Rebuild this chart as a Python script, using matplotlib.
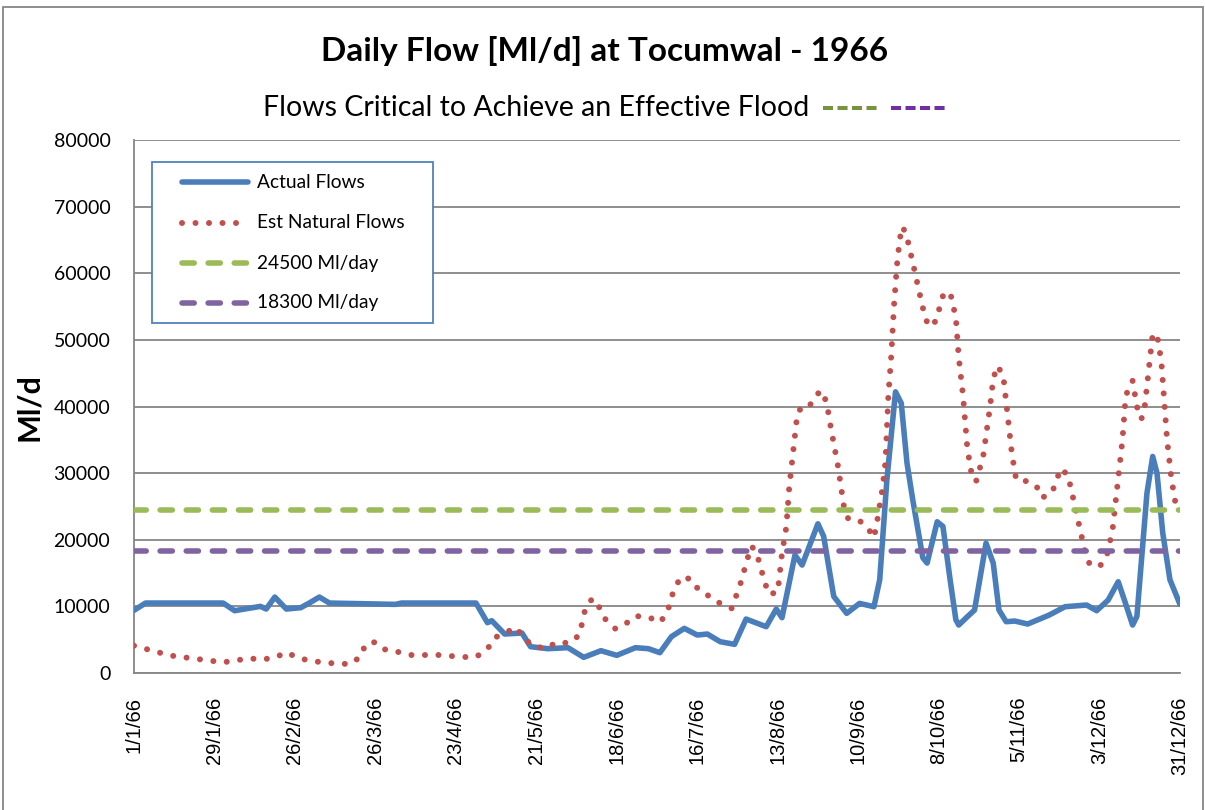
import datetime
import matplotlib
matplotlib.use("Agg")
import matplotlib.pyplot as plt
import matplotlib.patches as patches
from matplotlib.lines import Line2D

# day of year (0 = 1 Jan 1966) and flow in Ml/d
actual_day = [0, 4, 31, 35, 44, 46, 49, 53, 58, 61, 64.5, 68, 91, 93, 119, 123, 124.5,
              129, 135, 138, 144, 151, 156.5, 162.5, 168, 174.5, 179, 183, 187, 191.5,
              196, 199.5, 204, 209, 213, 220, 223.5, 225.5, 230, 232.5, 238, 240, 243.5,
              248, 252.5, 257.5, 259.5, 262, 265, 267, 269, 271, 274.5, 276, 279.5, 281.5,
              284, 286, 287, 290, 292.5, 296.5, 299, 301, 303.5, 306.5, 311, 318.5, 324,
              331.5, 335, 339, 342.5, 345, 347.5, 349, 352.5, 354.5, 356, 358, 360.5, 364]
actual_flow = [9400, 10500, 10500, 9350, 10000, 9600, 11400, 9600, 9800, 10500, 11400,
               10500, 10300, 10500, 10500, 7550, 7850, 5850, 6000, 3950, 3650, 3800, 2350,
               3350, 2650, 3800, 3650, 3050, 5450, 6700, 5700, 5850, 4700, 4300, 8100, 6950,
               9600, 8300, 17700, 16200, 22400, 20500, 11500, 8950, 10450, 9950, 14000,
               29000, 42200, 40500, 31500, 26000, 17300, 16500, 22700, 22000, 14000, 8000,
               7200, 8450, 9450, 19500, 16500, 9450, 7700, 7800, 7350, 8700, 9950, 10200,
               9350, 10950, 13700, 10500, 7200, 8500, 27000, 32500, 30000, 21000, 14000,
               10300]

natural_day = [0, 8.5, 13, 22, 31, 35.5, 40.5, 44, 49, 53, 57, 61.5, 70.5, 75.5, 79, 80.5,
               84, 87.5, 92, 96.5, 106, 114.5, 119, 123, 125.5, 129.5, 133, 135.5, 139,
               143.5, 147, 151.5, 155, 157, 159.5, 162, 164, 167.5, 171, 174.5, 179, 183,
               185.5, 188, 190.5, 194, 196.5, 200.5, 204.5, 208, 211, 213.5, 215, 217,
               219.5, 221, 224, 225.5, 227, 228, 229.5, 230.5, 231.5, 234.5, 236.5, 239,
               241, 242.5, 245, 247, 248.5, 252, 255, 257.5, 258.5, 260.5, 261.5, 262.5,
               263.5, 264.5, 265.5, 266.5, 267.5, 269, 271, 273, 275, 276.5, 279, 281.5,
               284, 286, 287, 288.5, 290, 291.5, 293, 295.5, 298, 299, 300.5, 302.5, 304,
               305.5, 307, 310.5, 314, 316, 319.5, 322.5, 325, 327, 329, 331, 332.5, 336,
               338.5, 340.5, 342.5, 344, 345, 346, 347.5, 349, 350.5, 351.5, 352.5, 353.5,
               354.5, 356, 357.5, 358.5, 359.5, 361, 362.5]
natural_flow = [4100, 3100, 2600, 2100, 1600, 1900, 2200, 2000, 2300, 3100, 2300, 1800,
                1400, 1350, 2550, 4300, 4650, 3500, 3150, 2700, 2700, 2400, 2400, 3600,
                5300, 6100, 6850, 5300, 4000, 3700, 4600, 4500, 5700, 9550, 11200, 9800,
                8100, 6650, 7350, 8550, 8400, 7600, 9000, 12700, 14450, 14050, 12450,
                11450, 10300, 9700, 13350, 17200, 19050, 17500, 13600, 11800, 12150, 17950,
                21900, 27800, 33600, 37600, 39500, 39600, 41200, 42400, 40700, 36800,
                31000, 25100, 23200, 23000, 22000, 20300, 22500, 27800, 31700, 41600,
                47500, 55300, 61200, 65200, 67000, 65400, 61600, 57700, 53900, 52000,
                52800, 56600, 57200, 53300, 47400, 41600, 33700, 29800, 28700, 32500,
                40300, 44200, 46100, 44600, 38700, 32900, 29000, 28800, 28100, 26300,
                27100, 30700, 29700, 25900, 22000, 18100, 16400, 15950, 17550, 21400,
                29200, 35100, 41000, 42900, 43850, 40000, 38100, 39100, 43100, 47000,
                50850, 50800, 46800, 41000, 35000, 29200, 25300]

threshold_days = [0, 364]
threshold_high = 24500
threshold_low = 18300

tick_days = list(range(0, 365, 28))
start = datetime.date(1966, 1, 1)
tick_labels = []
for d in tick_days:
    t = start + datetime.timedelta(days=d)
    tick_labels.append("%d/%d/66" % (t.day, t.month))

W, H = 1205, 810


def fx(x):
    return x / W


def fy(y):
    return 1 - y / H


fig = plt.figure(figsize=(W / 100, H / 100), dpi=100)
ax = fig.add_axes([fx(134), fy(673), 1046 / W, 533 / H])

grid_color = "#868686"
dotted = (0, (0.01, 2.25))
dashed = (0, (2.2, 2.5))

series = [
    dict(x=actual_day, y=actual_flow, color="#4A7EBB", lw=4, ls="-", label="Actual Flows"),
    dict(x=natural_day, y=natural_flow, color="#C0504D", lw=4.3, ls=dotted,
         label="Est Natural Flows"),
    dict(x=threshold_days, y=[threshold_high] * 2, color="#9BBB59", lw=4, ls=dashed,
         label="24500 Ml/day"),
    dict(x=threshold_days, y=[threshold_low] * 2, color="#8064A2", lw=4, ls=dashed,
         label="18300 Ml/day"),
]

for i, s in enumerate(series):
    ax.plot(s["x"], s["y"], color=s["color"], lw=s["lw"], linestyle=s["ls"],
            solid_joinstyle="round", solid_capstyle="round", dash_capstyle="round",
            zorder=3 + i)

ax.set_xlim(0, 364)
ax.set_ylim(0, 80000)
ax.set_yticks(range(0, 80001, 10000))
ax.set_xticks(tick_days)
ax.set_xticklabels(tick_labels, rotation=90, fontsize=14.5, family="Liberation Sans")
for lab in ax.get_yticklabels():
    lab.set_family("Lato")
    lab.set_fontsize(14)
ax.tick_params(axis="both", length=0)
ax.tick_params(axis="x", pad=17)
ax.tick_params(axis="y", pad=17)
ax.yaxis.grid(True, color=grid_color, lw=1.3)
ax.set_axisbelow(True)
for side in ["top", "right"]:
    ax.spines[side].set_visible(False)
for side in ["left", "bottom"]:
    ax.spines[side].set_color(grid_color)
    ax.spines[side].set_linewidth(1.3)

# axis title, placed in figure space
fig.text(fx(29), fy(407), "Ml/d", rotation=90, ha="center", va="center", fontsize=22,
         fontweight="bold", family="Lato")

fig.text(fx(605), fy(51), "Daily Flow [Ml/d] at Tocumwal - 1966", ha="center",
         va="center", fontsize=24, fontweight="bold", family="Lato")
fig.text(fx(263), fy(108), "Flows Critical to Achieve an Effective Flood", ha="left",
         va="center", fontsize=20.5, family="Lato")
fig.add_artist(Line2D([fx(823), fx(878)], [fy(108), fy(108)], color="#77933C", lw=2.9,
                      linestyle=(0, (2.5, 1.1))))
fig.add_artist(Line2D([fx(891), fx(947)], [fy(108), fy(108)], color="#7030A0", lw=2.9,
                      linestyle=(0, (2.5, 1.1))))

# legend box drawn by hand so the padding matches the chart style
fig.add_artist(patches.Rectangle((fx(152), fy(323)), 281 / W, 161 / H, fill=True,
                                 facecolor="white", edgecolor="#4F81BD", lw=1.3,
                                 transform=fig.transFigure, zorder=10))
rows = [182, 223, 263, 303]
for s, y in zip(series, rows):
    fig.add_artist(Line2D([fx(182), fx(248)], [fy(y), fy(y)], color=s["color"],
                          lw=s["lw"], linestyle=s["ls"], dash_capstyle="round",
                          solid_capstyle="round", zorder=11))
    fig.text(fx(257), fy(y), s["label"], ha="left", va="center", fontsize=13.8,
             family="Lato", zorder=12)

fig.add_artist(patches.Rectangle((fx(3), -0.02), 1200 / W, 1.02 - 7 / H, fill=False,
                                 edgecolor=grid_color, lw=1.3, transform=fig.transFigure))

fig.savefig("out.png", dpi=100)
